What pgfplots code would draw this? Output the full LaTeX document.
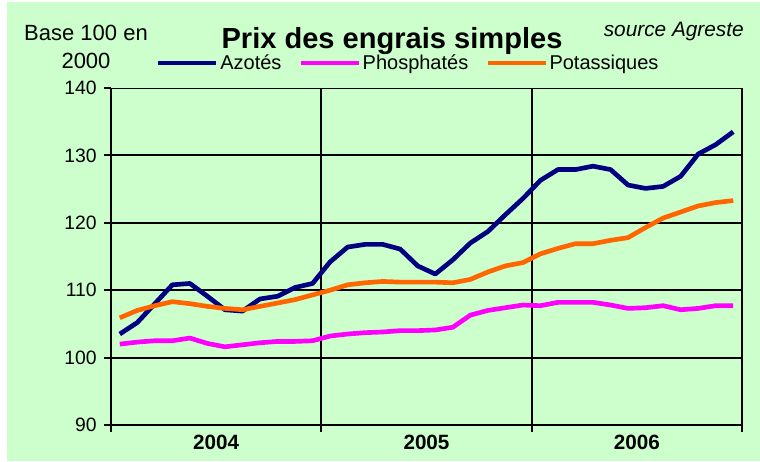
\documentclass[border=0pt]{standalone}
\usepackage{pgfplots}
\pgfplotsset{compat=1.18}
\usepackage{pgfplotstable}
\usepackage{fontspec}
\setmainfont{Liberation Sans}
\definecolor{bg}{HTML}{CCFFCC}
\definecolor{azo}{HTML}{000080}
\definecolor{pho}{HTML}{FF00FF}
\definecolor{pot}{HTML}{FF6600}
\pgfplotstableread{
m azo pho pot
0 103.5 102.0 105.9
1 105.2 102.3 107.0
2 108.0 102.5 107.7
3 110.8 102.5 108.3
4 111.0 102.9 108.0
5 109.1 102.1 107.6
6 107.1 101.6 107.3
7 106.9 101.9 107.1
8 108.7 102.2 107.6
9 109.1 102.4 108.1
10 110.4 102.4 108.6
11 111.0 102.5 109.3
12 114.2 103.2 110.0
13 116.4 103.5 110.8
14 116.8 103.7 111.1
15 116.8 103.8 111.3
16 116.1 104.0 111.2
17 113.6 104.0 111.2
18 112.4 104.1 111.2
19 114.5 104.5 111.1
20 117.0 106.3 111.6
21 118.7 107.0 112.7
22 121.2 107.4 113.6
23 123.6 107.8 114.1
24 126.3 107.7 115.4
25 127.9 108.2 116.2
26 127.9 108.2 116.9
27 128.4 108.2 116.9
28 127.9 107.8 117.4
29 125.6 107.3 117.8
30 125.1 107.4 119.3
31 125.4 107.7 120.7
32 126.9 107.1 121.6
33 130.2 107.3 122.5
34 131.6 107.7 123.0
35 133.5 107.7 123.3
}\data
\begin{document}
\begin{tikzpicture}
\fill[white] (0,0) rectangle (570pt,-345.75pt);
\fill[bg] (5.25pt,-1.5pt) rectangle (570pt,-345.75pt);
\node[anchor=base, font=\fontsize{16.5}{19}\selectfont, inner sep=0pt] at (64.5pt,-30pt) {Base 100 en};
\node[anchor=base, font=\fontsize{16.5}{19}\selectfont, inner sep=0pt] at (64.5pt,-51.5pt) {2000};
\node[anchor=base, font=\bfseries\fontsize{21.8}{25}\selectfont, inner sep=0pt] at (294pt,-36.2pt) {Prix des engrais simples};
\node[anchor=base east, font=\itshape\fontsize{15.6}{18}\selectfont, inner sep=0pt] at (558pt,-27pt) {source Agreste};
\begin{axis}[
  at={(83.25pt,-66pt)}, anchor=north west,
  scale only axis, width=473.25pt, height=252.75pt,
  xmin=-0.5, xmax=35.5, ymin=90, ymax=140,
  axis line style={draw=none},
  xtick={-0.5,11.5,23.5,35.5}, xticklabels={},
  ytick={90,100,110,120,130},
  extra y ticks={140},
  extra y tick style={grid style={black, line width=0.6pt}},
  extra x ticks={5.5,17.5,29.5},
  extra x tick labels={2004,2005,2006},
  extra x tick style={major tick length=0pt, xmajorgrids=false,
     tick label style={font=\bfseries\fontsize{15.5}{18}\selectfont, yshift=-4pt}},
  xmajorgrids, ymajorgrids,
  grid style={black, line width=1.5pt},
  tick align=outside, major tick length=5.25pt,
  tick style={black, line width=1.5pt},
  xtick pos=left, ytick pos=left,
  /pgf/number format/assume math mode=true,
  tick label style={font=\fontsize{14.5}{17}\selectfont},
  yticklabel style={xshift=-2pt},
  legend columns=3,
  legend style={draw=none, fill=none, inner sep=0pt, at={(axis description cs:0.071,1.074)}, anchor=west,
     font=\fontsize{15}{18}\selectfont, nodes={inner sep=1.2pt},
     /tikz/every even column/.append style={column sep=11.5pt}},
  legend image code/.code={\draw[#1] (0pt,0pt) -- (43.5pt,0pt);},
  line join=round,
]
\addplot[azo, line width=3.5pt] table[x=m, y=azo] {\data};
\addlegendentry{Azotés}
\addplot[pho, line width=3.5pt] table[x=m, y=pho] {\data};
\addlegendentry{Phosphatés}
\addplot[pot, line width=3.5pt] table[x=m, y=pot] {\data};
\addlegendentry{Potassiques}
\end{axis}
\pgfresetboundingbox
\useasboundingbox (0,0) rectangle (570pt,-345.75pt);
\end{tikzpicture}
\end{document}
